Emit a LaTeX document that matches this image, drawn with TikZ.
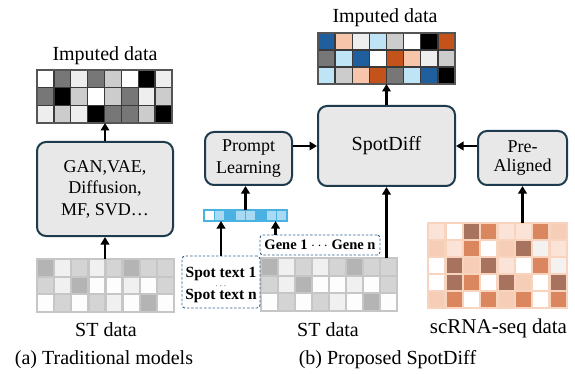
\documentclass[tikz,border=0pt]{standalone}
\usepackage{fontspec}
\setmainfont{Liberation Serif}
\usetikzlibrary{arrows.meta,calc}

\definecolor{boxline}{HTML}{1D3B4C}
\definecolor{boxfill}{HTML}{E8E8E8}
\definecolor{kW}{HTML}{FFFFFF}
\definecolor{kL}{HTML}{EEEEEE}
\definecolor{kC}{HTML}{CCCCCC}
\definecolor{kG}{HTML}{777777}
\definecolor{kK}{HTML}{000000}
\definecolor{kgrid}{HTML}{3A3A3A}
\definecolor{kborder}{HTML}{555555}
\definecolor{bB}{HTML}{1F5F9E}
\definecolor{bL}{HTML}{BFE4F6}
\definecolor{oP}{HTML}{F7C6AA}
\definecolor{oO}{HTML}{C4531B}
\definecolor{sD}{HTML}{B4B4B4}
\definecolor{sM}{HTML}{D4D4D4}
\definecolor{sL}{HTML}{F0F0F0}
\definecolor{sW}{HTML}{FDFDFD}
\definecolor{stline}{HTML}{C6C6C6}
\definecolor{rW}{HTML}{FFFFFF}
\definecolor{rV}{HTML}{FBE4D7}
\definecolor{rP}{HTML}{F6CDB7}
\definecolor{rO}{HTML}{DA865E}
\definecolor{rB}{HTML}{A8735E}
\definecolor{rG}{HTML}{F4F2F1}
\definecolor{scline}{HTML}{F8D3BE}
\definecolor{eB}{HTML}{4AB1E3}
\definecolor{eL}{HTML}{A8DAF3}
\definecolor{eW}{HTML}{FFFFFF}
\definecolor{dashc}{HTML}{2F5F8F}

\newcommand{\cellrow}[6]{%
  \foreach \cc [count=\k from 0] in {#6} {%
    \path[#5,fill=\cc] ({#1+\k*(#3)},{#2}) rectangle ++({#3},{#4});
  }}

\tikzset{
  mbox/.style={draw=boxline, line width=2pt, fill=boxfill, rounded corners=9pt,
    align=center, inner sep=0pt},
  gridnode/.style={inner sep=0pt, outer sep=0pt, draw=none},
  dbox/.style={draw=dashc, line width=0.9pt, dash pattern=on 2.5pt off 1.8pt,
    rounded corners=3pt, inner sep=0pt},
  lbl/.style={font=\fontsize{20}{24}\selectfont, inner sep=0pt},
  stxt/.style={font=\bfseries\fontsize{15.5}{19}\selectfont, inner sep=0pt, anchor=base},
  arr/.style={line width=2.2pt, -{Triangle[length=7.5pt,width=8.5pt]}},
  impcell/.style={draw=kgrid, line width=1.4pt},
  stcell/.style={draw=stline, line width=2.3pt},
  sccell/.style={draw=scline, line width=2.4pt},
  embcell/.style={draw=eB, line width=1.5pt},
}

\begin{document}
\begin{tikzpicture}[x=1pt,y=-1pt]
\useasboundingbox (0,0) rectangle (575,374);

% ---------- (a) traditional ----------
\node[gridnode, minimum width=135pt, minimum height=53pt] (impA) at (104.5,96.5) {};
\cellrow{37}{70}{16.875}{17.667}{impcell}{kW,kG,kL,kG,kC,kW,kK,kL}
\cellrow{37}{87.667}{16.875}{17.667}{impcell}{kG,kK,kC,kW,kC,kG,kL,kC}
\cellrow{37}{105.333}{16.875}{17.667}{impcell}{kL,kC,kL,kK,kG,kG,kC,kK}
\draw[kborder, line width=1.8pt] (impA.north west) rectangle (impA.south east);
\node[lbl, anchor=base] (tImpA) at (105,61) {Imputed data};

\node[mbox, minimum width=136pt, minimum height=94pt,
  font=\fontsize{18}{21.5}\selectfont] (boxA) at (105,189) {GAN,VAE,\\Diffusion,\\MF, SVD…};

\node[gridnode, minimum width=137pt, minimum height=53pt] (stA) at (105.5,285.5) {};
\cellrow{37}{259}{17.125}{17.667}{stcell}{sD,sL,sM,sL,sM,sD,sM,sM}
\cellrow{37}{276.667}{17.125}{17.667}{stcell}{sM,sL,sD,sW,sW,sL,sW,sM}
\cellrow{37}{294.333}{17.125}{17.667}{stcell}{sW,sM,sW,sM,sL,sW,sD,sW}
\node[lbl, anchor=base] (tStA) at (106,336) {ST data};
\node[lbl, anchor=base] (capA) at (104,364) {(a) Traditional models};

\draw[arr] (stA.north -| boxA.south) -- (boxA.south);
\draw[arr] (boxA.north) -- (boxA.north |- impA.south);

% ---------- (b) proposed ----------
\node[gridnode, minimum width=137pt, minimum height=51pt] (impB) at (386.5,58.5) {};
\cellrow{318}{33}{17.125}{17}{impcell}{bB,oP,kL,bL,kC,kW,kK,oO}
\cellrow{318}{50}{17.125}{17}{impcell}{kG,bL,bB,kW,oO,oP,kL,kC}
\cellrow{318}{67}{17.125}{17}{impcell}{bL,kC,oP,oO,kG,bL,bB,kK}
\draw[kborder, line width=1.8pt] (impB.north west) rectangle (impB.south east);
\node[lbl, anchor=base] (tImpB) at (385,23) {Imputed data};

\node[mbox, minimum width=137pt, minimum height=80pt,
  font=\fontsize{20}{24}\selectfont] (spot) at (386.5,146) {SpotDiff};
\node[mbox, minimum width=87pt, minimum height=53pt,
  font=\fontsize{18}{22}\selectfont] (prompt) at (248.5,158.5) {Prompt\\Learning};
\node[mbox, minimum width=89pt, minimum height=54pt,
  font=\fontsize{18}{19.5}\selectfont] (pre) at (522.5,158) {Pre-\\Aligned};

% embedding bar
\node[gridnode, minimum width=83pt, minimum height=11pt] (bar) at (245.5,215.5) {};
\cellrow{204}{210}{10.375}{11}{embcell}{eW,eL,eB,eL,eL,eB,eL,eL}

% ST data grid (b)
\node[gridnode, minimum width=136pt, minimum height=53pt] (stB) at (329,284.5) {};
\cellrow{261}{258}{17}{17.667}{stcell}{sD,sL,sM,sL,sM,sD,sM,sM}
\cellrow{261}{275.667}{17}{17.667}{stcell}{sM,sL,sD,sW,sW,sL,sW,sM}
\cellrow{261}{293.333}{17}{17.667}{stcell}{sW,sM,sW,sM,sL,sW,sD,sW}
\node[lbl, anchor=base] (tStB) at (328,336) {ST data};

% spot text box and gene box
\node[dbox, minimum width=78pt, minimum height=52pt] (sbox) at (221,282) {};
\node[stxt] (sline1) at (221,277.5) {Spot text 1};
\node[inner sep=0pt, font=\fontsize{9}{9}\selectfont] (sdots) at (221,286) {$\cdots$};
\node[stxt] (sline2) at (221,299.5) {Spot text n};
\node[dbox, minimum width=120pt, minimum height=20pt,
  font=\fontsize{14.5}{16}\selectfont] (gbox) at (320,245) {\textbf{Gene 1} $\cdots$ \textbf{Gene n}};

% scRNA-seq grid
\node[gridnode, minimum width=139pt, minimum height=85pt] (scrna) at (497.5,265.5) {};
\cellrow{428}{223}{17.375}{17}{sccell}{rV,rW,rB,rO,rV,rV,rO,rP}
\cellrow{428}{240}{17.375}{17}{sccell}{rP,rV,rO,rW,rP,rB,rG,rV}
\cellrow{428}{257}{17.375}{17}{sccell}{rW,rB,rP,rB,rV,rW,rO,rG}
\cellrow{428}{274}{17.375}{17}{sccell}{rW,rB,rO,rW,rB,rP,rW,rB}
\cellrow{428}{291}{17.375}{17}{sccell}{rP,rO,rW,rO,rP,rO,rW,rO}
\node[lbl, anchor=base, font=\fontsize{21}{24}\selectfont] (tSc) at (498.5,333) {scRNA-seq data};

\node[lbl, anchor=base] (capB) at (387.5,364) {(b) Proposed SpotDiff};

% connectors
\draw[arr] (spot.north) -- (spot.north |- impB.south);
\draw[arr] (spot.west -| prompt.east) -- (spot.west);
\draw[arr] (spot.east -| pre.west) -- (spot.east);
\draw[arr] (scrna.north -| pre.south) -- (pre.south);
\draw[arr] (stB.north -| spot.south) -- (spot.south);
\draw[arr] (bar.north) -- (bar.north |- prompt.south);
\draw[arr] (sbox.north) -- (sbox.north |- bar.south);
\coordinate (gtop) at ($(gbox.north west)+(16,0)$);
\draw[arr] (gtop) -- (gtop |- bar.south);
\end{tikzpicture}
\end{document}
